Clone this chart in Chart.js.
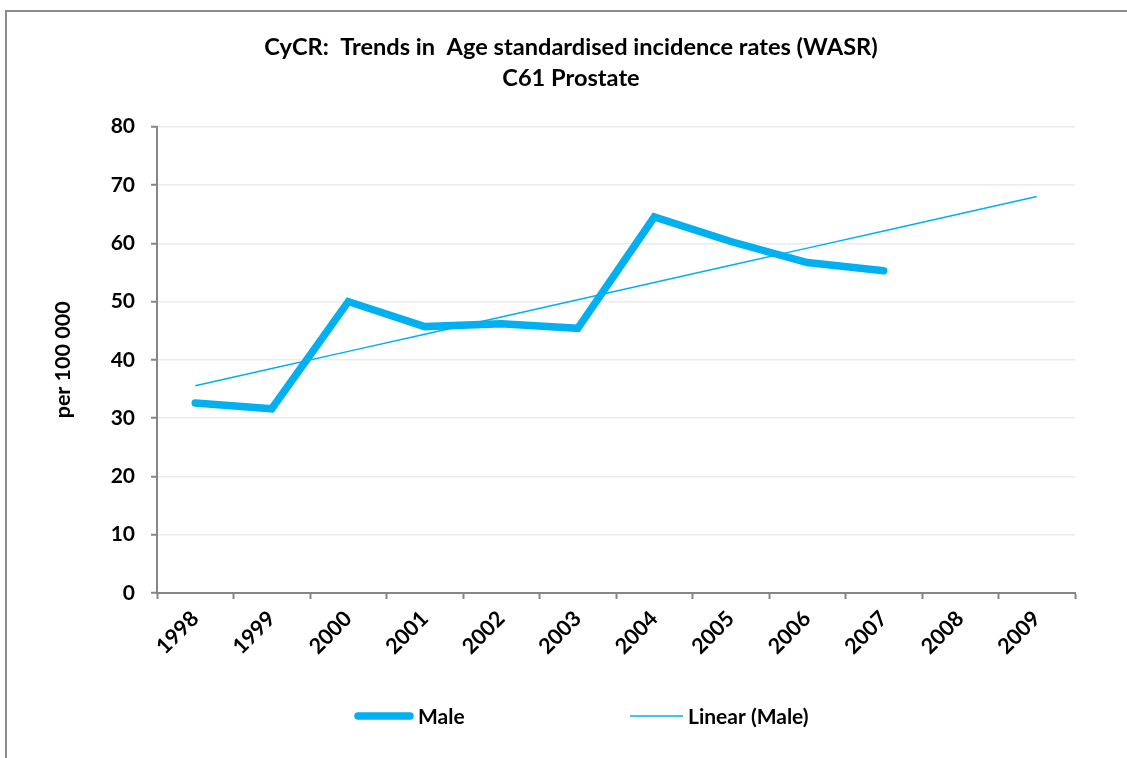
<!DOCTYPE html>
<html>
<head>
<meta charset="utf-8">
<title>CyCR: Trends in Age standardised incidence rates (WASR) - C61 Prostate</title>
<script src="https://cdn.jsdelivr.net/npm/chart.js@4.4.1/dist/chart.umd.min.js"></script>
<style>
  html, body { margin: 0; padding: 0; background: #ffffff; }
  #frame {
    position: absolute; left: 5px; top: 10px; width: 1200px; height: 800px;
    border-top: 2px solid #8c8c8c; border-left: 2px solid #8c8c8c;
    box-sizing: border-box;
  }
  #wrap { position: absolute; left: 0; top: 0; width: 1127px; height: 758px; }
</style>
</head>
<body>
<div id="frame"></div>
<div id="wrap"><canvas id="chart" width="1127" height="758"></canvas></div>
<script>
// Years on the category axis
const years = ['1998', '1999', '2000', '2001', '2002', '2003', '2004', '2005', '2006', '2007', '2008', '2009'];
// Age standardised incidence rate (WASR) per 100 000, male
const maleRates = [32.6, 31.6, 50.0, 45.7, 46.2, 45.4, 64.5, 60.3, 56.7, 55.3, null, null];
// Value axis ticks
const yTicks = [0, 10, 20, 30, 40, 50, 60, 70, 80];

const LINE_BLUE = '#00b0f0';
const AXIS_GREY = '#868686';
const FONT = 'Lato, "Open Sans", "Liberation Sans", sans-serif';
const WEIGHT = 'bold';

// Least-squares linear trend of the observed values, extended over all years
function linearTrend(values, n) {
  const pts = values.map((v, i) => [i, v]).filter(p => p[1] !== null);
  const mx = pts.reduce((s, p) => s + p[0], 0) / pts.length;
  const my = pts.reduce((s, p) => s + p[1], 0) / pts.length;
  let sxy = 0, sxx = 0;
  pts.forEach(p => { sxy += (p[0] - mx) * (p[1] - my); sxx += (p[0] - mx) * (p[0] - mx); });
  const slope = sxy / sxx;
  const icpt = my - slope * mx;
  return Array.from({ length: n }, (_, i) => icpt + slope * i);
}
const maleTrend = linearTrend(maleRates, years.length);

// Legend drawn under the axis: a line sample followed by its label
const bottomLegend = {
  id: 'bottomLegend',
  afterDraw(chart) {
    const ctx = chart.ctx;
    const y = 716;
    const items = [
      { x: 355, w: 58, lw: 7.5, text: 'Male' },
      { x: 630, w: 53, lw: 1.5, text: 'Linear (Male)' }
    ];
    ctx.save();
    ctx.font = WEIGHT + ' 21px ' + FONT;
    ctx.textBaseline = 'middle';
    ctx.fillStyle = '#000000';
    items.forEach(it => {
      const thick = it.lw > 2;
      ctx.beginPath();
      ctx.strokeStyle = LINE_BLUE;
      ctx.lineWidth = it.lw;
      ctx.lineCap = thick ? 'round' : 'butt';
      ctx.moveTo(it.x + (thick ? 3 : 0), y);
      ctx.lineTo(it.x + it.w - (thick ? 3 : 0), y);
      ctx.stroke();
      ctx.fillText(it.text, it.x + it.w + 5, y + 1);
    });
    ctx.restore();
  }
};

new Chart(document.getElementById('chart'), {
  type: 'line',
  data: {
    labels: years,
    datasets: [
      {
        label: 'Male',
        data: maleRates,
        borderColor: LINE_BLUE,
        backgroundColor: LINE_BLUE,
        borderWidth: 7.5,
        borderCapStyle: 'round',
        pointRadius: 0,
        pointHoverRadius: 0,
        tension: 0,
        spanGaps: false,
        order: 1
      },
      {
        label: 'Linear (Male)',
        data: maleTrend,
        borderColor: LINE_BLUE,
        backgroundColor: LINE_BLUE,
        borderWidth: 1.5,
        pointRadius: 0,
        pointHoverRadius: 0,
        tension: 0,
        order: 0
      }
    ]
  },
  options: {
    responsive: false,
    animation: false,
    events: [],
    layout: { padding: { left: 15, right: 0, top: 0, bottom: 0 } },
    plugins: {
      legend: { display: false },
      tooltip: { enabled: false },
      title: {
        display: true,
        text: ['CyCR:  Trends in  Age standardised incidence rates (WASR)', 'C61 Prostate'],
        color: '#000000',
        font: { family: FONT, size: 23.6, weight: WEIGHT, lineHeight: 1.33 },
        padding: { top: 31.5, bottom: 32.4 }
      }
    },
    scales: {
      x: {
        type: 'category',
        offset: true,
        grid: {
          offset: true,
          drawOnChartArea: false,
          drawTicks: true,
          tickLength: 6,
          tickColor: AXIS_GREY,
          tickWidth: 2
        },
        border: { display: true, color: AXIS_GREY, width: 2 },
        ticks: {
          autoSkip: false,
          minRotation: 45,
          maxRotation: 45,
          padding: 7,
          color: '#000000',
          font: { family: FONT, size: 21.5, weight: WEIGHT }
        },
        afterFit(scale) { scale.height = 165; }
      },
      y: {
        type: 'linear',
        position: 'left',
        min: 0,
        max: 80,
        afterBuildTicks(scale) { scale.ticks = yTicks.map(v => ({ value: v })); },
        grid: {
          color: '#ebebeb',
          lineWidth: 1.5,
          drawTicks: true,
          tickLength: 6,
          tickColor: AXIS_GREY,
          tickWidth: 2
        },
        border: { display: true, color: AXIS_GREY, width: 2 },
        ticks: {
          padding: 16,
          color: '#000000',
          font: { family: FONT, size: 21, weight: WEIGHT }
        },
        title: {
          display: true,
          text: 'per 100 000',
          color: '#000000',
          font: { family: FONT, size: 21.5, weight: WEIGHT },
          padding: { top: 35, bottom: 0 }
        },
        afterFit(scale) { scale.width = 142; }
      },
      spacer: {
        type: 'linear',
        position: 'right',
        display: true,
        grid: { display: false },
        border: { display: false },
        ticks: { display: false },
        afterFit(scale) { scale.width = 52; }
      }
    }
  },
  plugins: [bottomLegend]
});
</script>
</body>
</html>
